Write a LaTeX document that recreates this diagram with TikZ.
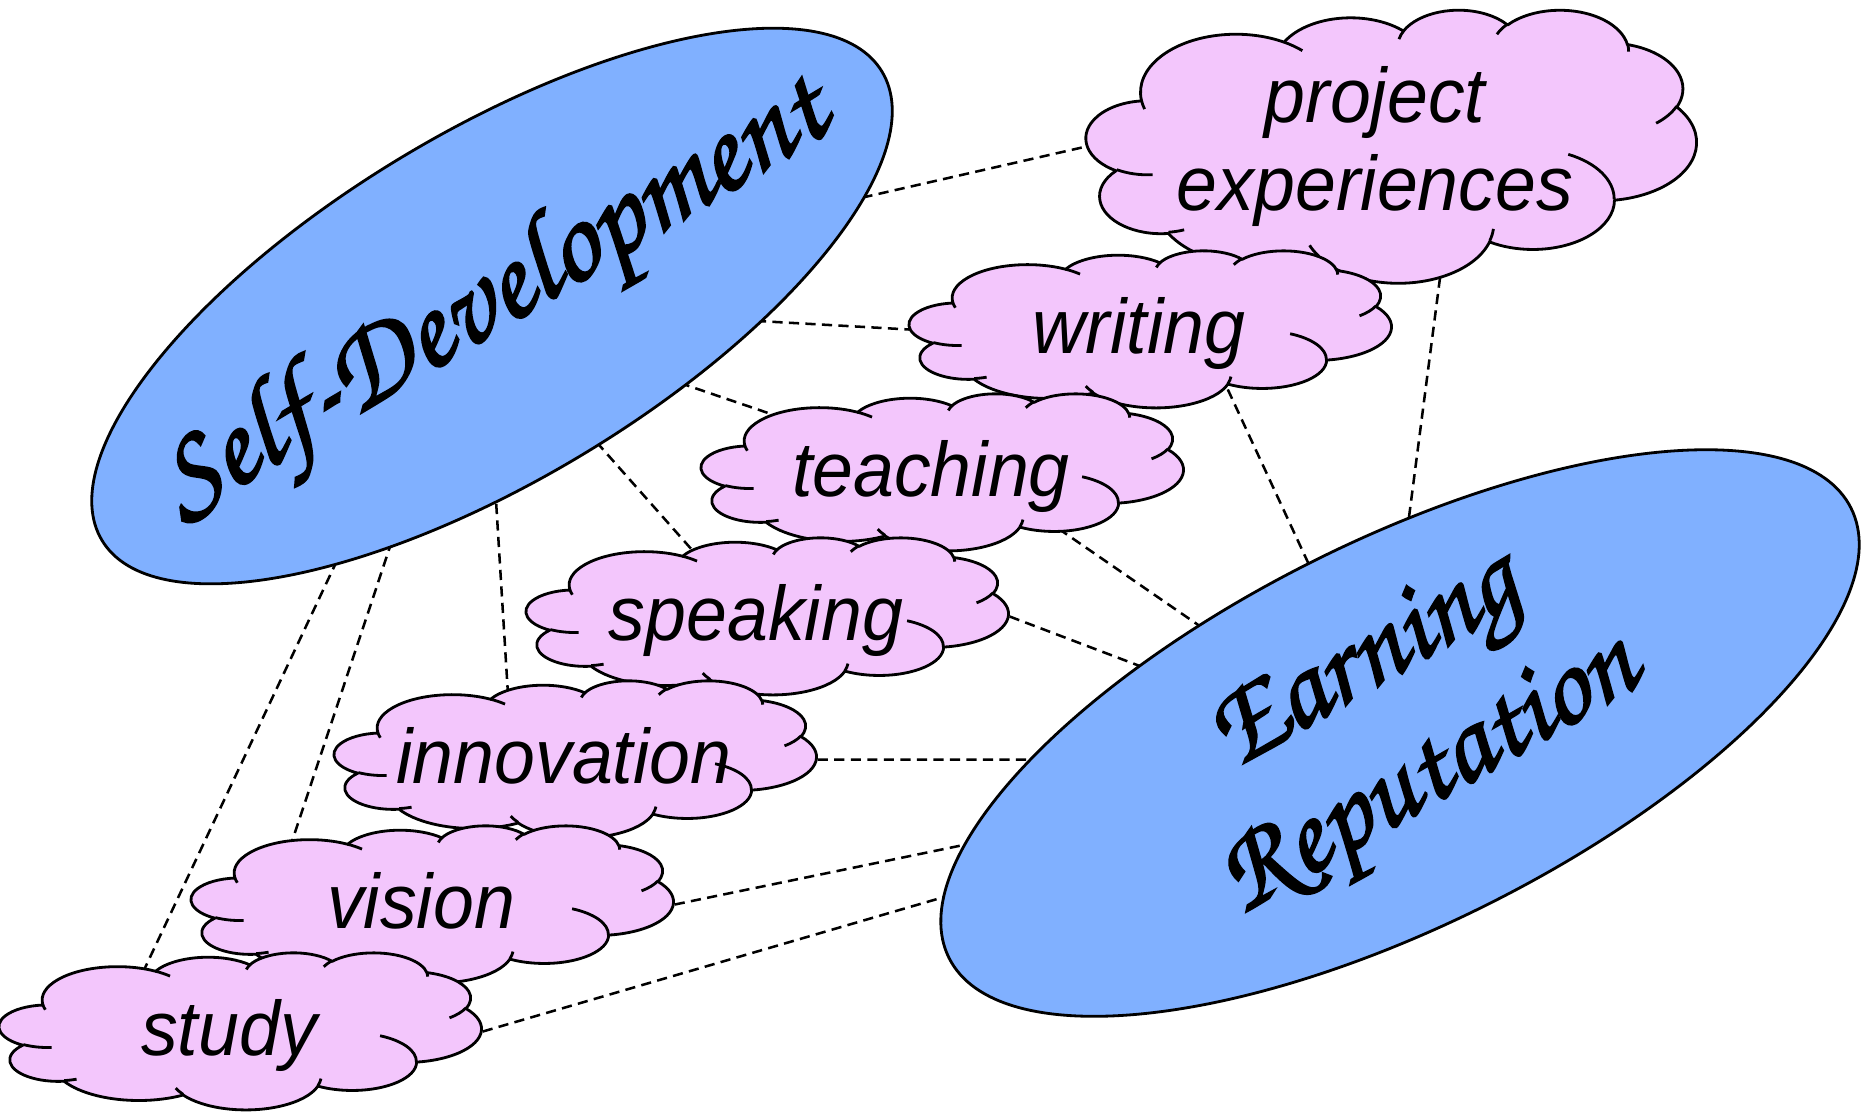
\documentclass[tikz,border=0pt]{standalone}
\usepackage{fontspec}
\setmainfont{Liberation Sans}[FakeStretch=0.95]
\newfontfamily\fancyfont{texgyrechorus-mediumitalic}[Extension=.otf, FakeBold=1.8]
\usetikzlibrary{shapes.geometric,backgrounds}

\definecolor{ovalblue}{RGB}{128,176,255}
\definecolor{cloudpink}{RGB}{243,198,252}

\tikzset{
  oval/.style={ellipse, draw, line width=0.8pt, fill=ovalblue, inner sep=0pt},
  fancy/.style={font=\fontsize{34.5}{38}\fancyfont, inner sep=0pt, align=center},
  cloudbox/.style={rectangle, inner sep=0pt, minimum width=4.82cm, minimum height=1.57cm},
  word/.style={font=\fontsize{22}{25}\selectfont\itshape, inner sep=0pt, anchor=base},
  cloudline/.style={line width=0.8pt, line join=round},
  link/.style={line width=0.72pt, dash pattern=on 2.9pt off 1.8pt},
  pptcloud/.pic={
    \draw[cloudline, fill=cloudpink] (9.028,33.264)
      \foreach \a/\b/\s/\w [evaluate={\s as \tst using atan2(\a*sin(\s),\b*cos(\s))},
          evaluate={\s as \ten using atan2(\a*sin(\s+\w),\b*cos(\s+\w))},
          evaluate={\s as \tdl using \ten-(\tst)+360*((\ten)<(\tst))}]
      in {15.632/21.273/-190.4875/123.7805, 12.345/16.822/-144.1024/89.9452,
          10.104/13.762/-145.8079/99.7230, 11.243/15.266/-130.9861/117.2417,
          12.345/16.836/-78.7089/109.0269, 15.683/21.343/-46.2673/130.2690,
          13.391/18.211/0.6250/114.0333, 15.630/21.331/22.4516/115.1726,
          17.870/24.405/66.2426/75.7110, 10.093/13.699/-274.9421/146.7356,
          10.058/13.762/-246.8285/152.5189}
      {arc[start angle=\tst, delta angle=\tdl, x radius=\a, y radius=\b]} -- cycle;
    \draw[cloudline]
      \foreach \x/\y/\a/\b/\s/\w [evaluate={\s as \tst using atan2(\a*sin(\s),\b*cos(\s))},
          evaluate={\s as \ten using atan2(\a*sin(\s+\w),\b*cos(\s+\w))},
          evaluate={\s as \tdl using \ten-(\tst)+360*((\ten)<(\tst))}]
      in {10.863/60.595/10.058/13.762/86.7420/26.4295,
          16.037/80.785/10.093/13.699/73.6105/11.4475,
          38.144/90.486/15.630/21.331/137.6242/14.0811,
          66.729/80.442/15.630/21.331/6.4533/15.9984,
          79.002/53.134/13.391/18.211/-70.2924/70.9174,
          96.755/35.542/12.345/16.836/30.3180/27.7515,
          88.713/12.560/11.243/15.266/-13.7443/14.8589,
          67.310/9.148/11.243/15.266/-149.1815/18.1954,
          51.252/10.926/10.104/13.762/-163.4943/17.6864,
          32.407/12.019/15.632/21.273/-66.7070/12.3194,
          9.553/36.549/15.632/21.273/157.6544/11.8582}
      {(\x,\y) arc[start angle=\tst, delta angle=\tdl, x radius=\a, y radius=\b]};
  }
}

\begin{document}
\begin{tikzpicture}
  \useasboundingbox (0,0) rectangle (18.66,-11.13);

  \node[oval, rotate=31, minimum width=9.10cm, minimum height=3.48cm] (sd) at (4.92,-3.06) {};
  \node[fancy, rotate=31] (sd-text) at ([xshift=0.03cm, yshift=0.04cm]sd.center) {Self-Development};
  \node[oval, rotate=26.5, minimum width=10.08cm, minimum height=3.85cm] (er) at (14.00,-7.33) {};
  \node[fancy, rotate=30, font=\fontsize{33}{37}\fancyfont] (er-text) at ([yshift=0.1cm]er.center) {Earning\\Reputation};

  \node[cloudbox, minimum width=6.10cm, minimum height=2.73cm] (proj) at (13.92,-1.465) {};
  \pic[xscale=0.0610, yscale=-0.0273] at (proj.north west) {pptcloud};
  \node[word] (proj-a) at ([xshift=-0.17cm, yshift=0.24cm]proj.center) {project};
  \node[word] (proj-b) at ([xshift=-0.17cm, yshift=-0.64cm]proj.center) {experiences};

  \node[cloudbox] (writing) at (11.51,-3.295) {};
  \pic[xscale=0.0482, yscale=-0.0157] at (writing.north west) {pptcloud};
  \node[word] (writing-text) at ([xshift=-0.12cm, yshift=-0.24cm]writing.center) {writing};

  \node[cloudbox] (teaching) at (9.43,-4.725) {};
  \pic[xscale=0.0482, yscale=-0.0157] at (teaching.north west) {pptcloud};
  \node[word] (teaching-text) at ([xshift=-0.12cm, yshift=-0.24cm]teaching.center) {teaching};

  \node[cloudbox] (speaking) at (7.68,-6.165) {};
  \pic[xscale=0.0482, yscale=-0.0157] at (speaking.north west) {pptcloud};
  \node[word] (speaking-text) at ([xshift=-0.12cm, yshift=-0.24cm]speaking.center) {speaking};

  \node[cloudbox] (innovation) at (5.76,-7.595) {};
  \pic[xscale=0.0482, yscale=-0.0157] at (innovation.north west) {pptcloud};
  \node[word] (innovation-text) at ([xshift=-0.12cm, yshift=-0.24cm]innovation.center) {innovation};

  \node[cloudbox] (vision) at (4.33,-9.045) {};
  \pic[xscale=0.0482, yscale=-0.0157] at (vision.north west) {pptcloud};
  \node[word] (vision-text) at ([xshift=-0.12cm, yshift=-0.24cm]vision.center) {vision};

  \node[cloudbox] (study) at (2.41,-10.315) {};
  \pic[xscale=0.0482, yscale=-0.0157] at (study.north west) {pptcloud};
  \node[word] (study-text) at ([xshift=-0.12cm, yshift=-0.24cm]study.center) {study};

  \begin{pgfonlayer}{background}
    \draw[link] ([yshift=0.24cm]sd.center) -- (proj.west);
    \draw[link] (sd.center) -- (writing.west);
    \draw[link] ([yshift=-0.13cm]sd.center) -- (teaching.center);
    \draw[link] ([xshift=-0.16cm]sd.center) -- ([xshift=-0.17cm]speaking.center);
    \draw[link] ([xshift=-0.08cm]sd.center) -- ([xshift=-0.64cm]innovation.center);
    \draw[link] ([xshift=-0.22cm]sd.center) -- ([xshift=-1.62cm]vision.center);
    \draw[link] ([xshift=-0.35cm]sd.center) -- ([xshift=-1.26cm]study.center);
    \draw[link] ([xshift=0.65cm]proj.center) -- ([xshift=-0.19cm]er.center);
    \draw[link] ([xshift=0.49cm]writing.center) -- ([xshift=-0.13cm]er.center);
    \draw[link] ([xshift=0.34cm]teaching.center) -- ([xshift=-0.45cm]er.center);
    \draw[link] (speaking.east) -- ([yshift=-0.32cm]er.center);
    \draw[link] (innovation.east) -- ([yshift=-0.27cm]er.center);
    \draw[link] (vision.east) -- ([yshift=-0.22cm]er.center);
    \draw[link] (study.east) -- ([yshift=-0.31cm]er.center);
  \end{pgfonlayer}
\end{tikzpicture}
\end{document}
